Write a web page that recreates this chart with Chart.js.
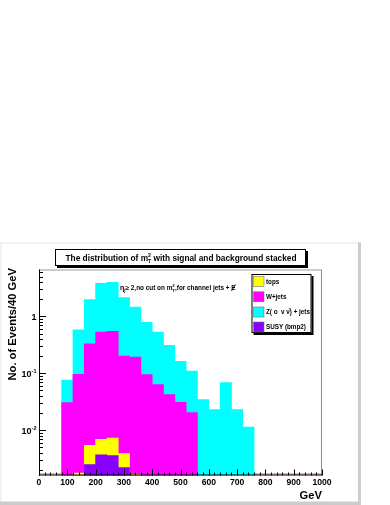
<!DOCTYPE html>
<html>
<head>
<meta charset="utf-8">
<script src="https://cdn.jsdelivr.net/npm/chart.js@4.4.0/dist/chart.umd.min.js"></script>
<style>
  html, body { margin: 0; padding: 0; background: #fff; }
  canvas { display: block; }
</style>
</head>
<body>
<canvas id="mt2-chart" width="390" height="505"></canvas>
<script>
// bin centres of the 40 GeV bins, 0..1000 GeV
const binCenters = [20, 60, 100, 140, 180, 220, 260, 300, 340, 380, 420, 460, 500,
                    540, 580, 620, 660, 700, 740, 780, 820, 860, 900, 940, 980];

// stacked histogram: height of the top of each layer
const susyTop  = [null, null, null, null, 0.0025, 0.0037, 0.0036, 0.0022, null, null, null, null, null,
                  null, null, null, null, null, null, null, null, null, null, null, null];
const topsTop  = [null, null, null, 0.00176, 0.0054, 0.00695, 0.0073, 0.0039, 0.00166, null, null, null, null,
                  null, null, null, null, null, null, null, null, null, null, null, null];
const wjetsTop = [null, null, 0.0306, 0.096, 0.332, 0.53, 0.55, 0.201, 0.193, 0.095, 0.0633, 0.0423, 0.031,
                  0.0204, null, null, null, null, null, null, null, null, null, null, null];
const zjetsTop = [null, null, 0.076, 0.58, 1.99, 3.84, 4.0, 2.15, 1.46, 0.79, 0.53, 0.31, 0.162,
                  0.11, 0.0346, 0.0231, 0.0687, 0.0231, 0.0114, null, null, null, null, null, null];

const legendLabels = ['tops', 'W+jets', 'Z( \u03bf  \u03bd \u03bd\u0304) + jets', 'SUSY (bmp2)'];
const legendColors = ['#ffff00', '#ff00ff', '#00ffff', '#8800ff'];

const xTickLabels = ['0', '100', '200', '300', '400', '500', '600', '700', '800', '900', '1000'];
const yTickValues = [0.01, 0.1, 1];
const yTickLabels = [['10', '-2'], ['10', '-1'], ['1', '']];

const FAM = '"Liberation Sans", Arial, Helvetica, sans-serif';

function toPoints(values) {
    return values.map((v, i) => ({ x: binCenters[i], y: v }));
}

// draws a run of text pieces (with sub/superscripts), returns x of each piece
function drawRich(ctx, x, y, parts, align) {
    const widths = parts.map(p => {
        ctx.font = 'bold ' + p.size + 'px ' + FAM;
        if (p.sup !== undefined) {
            return Math.max(ctx.measureText(p.sup).width, ctx.measureText(p.sub).width);
        }
        return ctx.measureText(p.t).width;
    });
    const total = widths.reduce((a, b) => a + b, 0);
    let cx = align === 'center' ? x - total / 2 : align === 'right' ? x - total : x;
    const xs = [];
    ctx.textAlign = 'left';
    ctx.textBaseline = 'alphabetic';
    parts.forEach((p, i) => {
        ctx.font = 'bold ' + p.size + 'px ' + FAM;
        xs.push(cx);
        if (p.sup !== undefined) {
            ctx.fillText(p.sup, cx, y + p.upDy);
            ctx.fillText(p.sub, cx, y + p.downDy);
        } else {
            ctx.fillText(p.t, cx, y + (p.dy || 0));
        }
        cx += widths[i];
    });
    xs.push(cx);
    return xs;
}

function shadowBox(ctx, x, y, w, h) {
    ctx.fillStyle = '#000';
    ctx.fillRect(x + 2, y + 2, w, h);
    ctx.fillStyle = '#fff';
    ctx.fillRect(x, y, w, h);
    ctx.strokeStyle = '#000';
    ctx.lineWidth = 1;
    ctx.strokeRect(x + 0.5, y + 0.5, w - 1, h - 1);
}

const rootStyle = {
    id: 'rootStyle',
    beforeDraw(chart) {
        const ctx = chart.ctx;
        ctx.save();
        // pad frame
        ctx.fillStyle = '#fff';
        ctx.fillRect(0, 0, chart.width, chart.height);
        ctx.fillStyle = '#e6e6e6';
        ctx.fillRect(0, 242.5, 361, 1);
        ctx.fillRect(0.5, 242.5, 1, 262);
        ctx.fillStyle = '#cccccc';
        ctx.fillRect(358, 242.5, 3, 262);
        ctx.fillRect(0, 501.5, 361, 3.5);
        ctx.restore();
    },
    beforeDatasetsDraw(chart) {
        const ctx = chart.ctx;
        const a = chart.chartArea;
        ctx.save();
        ctx.lineWidth = 1;
        ctx.strokeStyle = '#999';
        ctx.beginPath();
        ctx.moveTo(a.left, a.top + 0.5);
        ctx.lineTo(a.right, a.top + 0.5);
        ctx.stroke();
        ctx.strokeStyle = '#d86c6c';
        ctx.beginPath();
        ctx.moveTo(a.right - 0.5, a.top);
        ctx.lineTo(a.right - 0.5, a.bottom);
        ctx.moveTo(a.left, a.bottom - 1.5);
        ctx.lineTo(a.right, a.bottom - 1.5);
        ctx.stroke();
        ctx.restore();
    },
    afterDatasetsDraw(chart) {
        const ctx = chart.ctx;
        const a = chart.chartArea;
        const xs = chart.scales.x;
        const ys = chart.scales.y;
        ctx.save();
        ctx.strokeStyle = '#000';
        ctx.lineWidth = 1;
        ctx.beginPath();
        // axes
        ctx.moveTo(a.left + 0.5, a.top);
        ctx.lineTo(a.left + 0.5, a.bottom);
        ctx.moveTo(a.left, a.bottom - 0.5);
        ctx.lineTo(a.right, a.bottom - 0.5);
        // x ticks, every 20 GeV, pointing up
        for (let g = 0; g <= 1000; g += 20) {
            const px = Math.round(xs.getPixelForValue(g)) + 0.5;
            const len = g % 100 === 0 ? 6 : 3;
            ctx.moveTo(px, a.bottom);
            ctx.lineTo(px, a.bottom - len);
        }
        // y ticks, log decades with 2..9 minors, pointing right
        for (let d = -3; d <= 0; d++) {
            for (let m = 1; m <= 9; m++) {
                const v = m * Math.pow(10, d);
                if (v < ys.min || v > ys.max) continue;
                const py = Math.round(ys.getPixelForValue(v)) + 0.5;
                const len = m === 1 ? 7 : 4;
                ctx.moveTo(a.left, py);
                ctx.lineTo(a.left + len, py);
            }
        }
        ctx.stroke();

        // y tick labels
        ctx.fillStyle = '#000';
        yTickValues.forEach((v, i) => {
            const py = ys.getPixelForValue(v);
            const lab = yTickLabels[i];
            const parts = [{ t: lab[0], size: 9 }];
            if (lab[1]) parts.push({ t: lab[1], size: 5.5, dy: -4 });
            drawRich(ctx, a.left - 2.5, py + 3.3, parts, 'right');
        });

        // axis titles
        ctx.font = 'bold 11.2px ' + FAM;
        ctx.textAlign = 'right';
        ctx.textBaseline = 'middle';
        ctx.fillText('GeV', a.right, 496);
        ctx.save();
        ctx.translate(12.5, 268);
        ctx.rotate(-Math.PI / 2);
        ctx.textAlign = 'right';
        ctx.fillText('No. of Events/40 GeV', 0, 0);
        ctx.restore();

        // title box
        shadowBox(ctx, 55, 249, 251, 17);
        ctx.fillStyle = '#000';
        drawRich(ctx, 181, 261, [
            { t: 'The distribution of m', size: 8.3 },
            { sup: '2', sub: 'T', size: 5.2, upDy: -3.8, downDy: 1.8 },
            { t: ' with signal and background stacked', size: 8.3 }
        ], 'center');

        // annotation
        const ann = drawRich(ctx, 120, 290, [
            { t: '\u03b7', size: 7 },
            { t: 'j', size: 4.5, dy: 1.8 },
            { t: '\u2265 2,no cut on m', size: 6.4 },
            { sup: '2', sub: 'T', size: 4.3, upDy: -3, downDy: 1.8 },
            { t: ',for channel jets + ', size: 6.4 },
            { t: 'E', size: 6.4 }
        ], 'left');
        const ex = ann[5];
        ctx.lineWidth = 0.9;
        ctx.beginPath();
        ctx.moveTo(ex + 0.2, 291);
        ctx.lineTo(ex + 4.2, 284.5);
        ctx.stroke();

        // legend
        shadowBox(ctx, 251.5, 274, 60, 59);
        const rows = [281.5, 296.8, 312, 327];
        legendLabels.forEach((lab, i) => {
            ctx.fillStyle = legendColors[i];
            ctx.fillRect(253.5, rows[i] - 5, 10.5, 10);
            ctx.strokeStyle = '#777';
            ctx.lineWidth = 0.6;
            ctx.strokeRect(253.5, rows[i] - 5, 10.5, 10);
            ctx.fillStyle = '#000';
            ctx.font = 'bold 6.3px ' + FAM;
            ctx.textAlign = 'left';
            ctx.textBaseline = 'alphabetic';
            ctx.fillText(lab, 266, rows[i] + 2.3);
        });
        ctx.restore();
    }
};

const barBase = { grouped: false, barPercentage: 1, categoryPercentage: 1, borderWidth: 0 };

new Chart(document.getElementById('mt2-chart'), {
    type: 'bar',
    data: {
        datasets: [
            Object.assign({ label: legendLabels[3], data: toPoints(susyTop),  backgroundColor: legendColors[3], order: 1 }, barBase),
            Object.assign({ label: legendLabels[0], data: toPoints(topsTop),  backgroundColor: legendColors[0], order: 2 }, barBase),
            Object.assign({ label: legendLabels[1], data: toPoints(wjetsTop), backgroundColor: legendColors[1], order: 3 }, barBase),
            Object.assign({ label: legendLabels[2], data: toPoints(zjetsTop), backgroundColor: legendColors[2], order: 4 }, barBase)
        ]
    },
    options: {
        responsive: false,
        animation: false,
        devicePixelRatio: 1,
        layout: { padding: { left: 0, right: 68, top: 269.5, bottom: 0 } },
        plugins: {
            legend: { display: false },
            title: { display: false },
            tooltip: { enabled: false }
        },
        scales: {
            x: {
                type: 'linear',
                offset: false,
                min: 0,
                max: 1000,
                grid: { display: false, drawTicks: false },
                border: { display: false },
                ticks: {
                    stepSize: 100,
                    padding: 2,
                    color: '#000',
                    maxRotation: 0,
                    autoSkip: false,
                    font: { family: FAM, size: 8.6, weight: 'bold' },
                    callback: (v, i) => xTickLabels[i]
                },
                afterFit: s => { s.height = 29.5; }
            },
            y: {
                type: 'logarithmic',
                min: 0.0016,
                max: 6.7,
                grid: { display: false, drawTicks: false },
                border: { display: false },
                ticks: { display: false },
                afterFit: s => { s.width = 39; }
            }
        }
    },
    plugins: [rootStyle]
});
</script>
</body>
</html>
